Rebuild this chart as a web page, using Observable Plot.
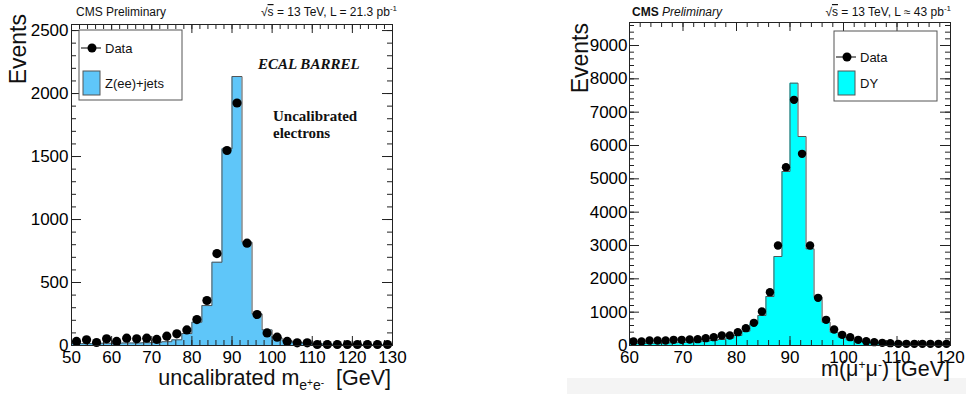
<!DOCTYPE html>
<html><head><meta charset="utf-8">
<script src="https://cdn.jsdelivr.net/npm/d3@7"></script>
<script src="https://cdn.jsdelivr.net/npm/@observablehq/plot@0.6"></script>
<style>
body{margin:0;background:#fff;}
#wrap{position:relative;width:966px;height:394px;overflow:hidden;background:#fff;font-family:"Liberation Sans",Arial,sans-serif;}
#left,#right{position:absolute;top:0;}
#left{left:0;} #right{left:483px;}
#band{position:absolute;left:567px;top:378px;width:399px;height:16px;background:#f4f4f4;}
svg{overflow:visible;}
</style></head><body>
<div id="wrap"><div id="band"></div><div id="left"></div><div id="right"></div></div>
<script>
// ---------- data: left panel (electrons, ECAL barrel) ----------
const leftEdges = [50,52.5,55,57.5,60,62.5,65,67.5,70,72.5,75,77.5,80,82.5,85,87.5,90,92.5,95,97.5,100,102.5,105,107.5,110,112.5,115,117.5,120,122.5,125,127.5,130];
const leftMC = [15,15,15,18,18,20,20,22,25,30,45,95,185,317,661,1561,2135,820,251,124,60,38,26,18,14,11,9,8,7,6,5,5];
const leftData = [32,45,24,53,32,58,53,58,48,74,93,124,206,357,730,1548,1925,812,246,100,66,32,21,21,8,8,8,8,8,8,8,8];
const leftXTicks = [50,60,70,80,90,100,110,120,130];
const leftYTicks = [0,500,1000,1500,2000,2500];

// ---------- data: right panel (muons, DY) ----------
const rightEdges = [60,61.5,63,64.5,66,67.5,69,70.5,72,73.5,75,76.5,78,79.5,81,82.5,84,85.5,87,88.5,90,91.5,93,94.5,96,97.5,99,100.5,102,103.5,105,106.5,108,109.5,111,112.5,114,115.5,117,118.5,120];
const rightMC = [60,60,65,70,75,80,90,100,110,130,150,180,220,300,430,650,900,1470,2670,5220,7870,6270,2900,1450,700,400,250,170,130,100,80,70,60,50,45,40,35,30,30,25];
const rightData = [120,120,150,150,150,170,170,180,190,220,250,300,300,400,520,680,1020,1600,3000,5350,7370,5750,3000,1430,770,480,320,250,170,130,100,80,70,50,50,50,50,50,50,50];
const rightXTicks = [60,70,80,90,100,110,120];
const rightYTicks = [0,1000,2000,3000,4000,5000,6000,7000,8000,9000];

function steps(edges, vals){
  const s=[{x:edges[0],y:0}];
  vals.forEach((v,i)=>{s.push({x:edges[i],y:v},{x:edges[i+1],y:v});});
  s.push({x:edges[edges.length-1],y:0});
  return s;
}
function panel(c){
  const H = 394 - c.mT - c.mB, W = c.width - c.mL - c.mR;
  const st = steps(c.edges, c.mc);
  const pts = c.data.map((v,i)=>({x:(c.edges[i]+c.edges[i+1])/2, y:v}));
  const ts = "#222";
  return Plot.plot({
    width:c.width, height:394, marginLeft:c.mL, marginRight:c.mR, marginTop:c.mT, marginBottom:c.mB,
    x:{domain:c.xDomain}, y:{domain:c.yDomain},
    style:{fontFamily:"'Liberation Sans', Arial, sans-serif", background:"transparent", color:"#000", overflow:"visible"},
    marks:[
      Plot.areaY(st,{x:"x",y1:0,y2:"y",fill:c.fill}),
      Plot.line(st,{x:"x",y:"y",stroke:"#555",strokeWidth:1}),
      Plot.tickX(c.xMajor,{x:d=>d, insetTop:H-9, stroke:ts}),
      Plot.tickX(c.xMinor,{x:d=>d, insetTop:H-5, stroke:ts}),
      Plot.tickX(c.xMajor,{x:d=>d, insetBottom:H-9, stroke:ts}),
      Plot.tickX(c.xMinor,{x:d=>d, insetBottom:H-5, stroke:ts}),
      Plot.tickY(c.yMajor,{y:d=>d, insetRight:W-10, stroke:ts}),
      Plot.tickY(c.yMinor,{y:d=>d, insetRight:W-5, stroke:ts}),
      Plot.tickY(c.yMajor,{y:d=>d, insetLeft:W-10, stroke:ts}),
      Plot.tickY(c.yMinor,{y:d=>d, insetLeft:W-5, stroke:ts}),
      Plot.dot(pts,{x:"x",y:"y",r:c.r,fill:"#000",stroke:null}),
      Plot.frame({stroke:"#222"}),
      Plot.axisX(c.xMajor,{tickSize:0,tickPadding:5,fontSize:17,tickFormat:d=>String(d),label:null}),
      Plot.axisY(c.yMajor,{tickSize:0,tickPadding:c.yPad,fontSize:17,tickFormat:d=>String(d),label:null})
    ]
  });
}

const left = panel({width:483, mL:71, mR:91, mT:24, mB:49, xDomain:[50,130], yDomain:[0,2548],
  edges:leftEdges, mc:leftMC, data:leftData, fill:"#5fc6f9", r:4.6, yPad:3,
  xMajor:leftXTicks, xMinor:d3.range(50,131,2), yMajor:leftYTicks, yMinor:d3.range(0,2548,100)});
const right = panel({width:483, mL:146, mR:16, mT:22, mB:49, xDomain:[60,120], yDomain:[0,9690],
  edges:rightEdges, mc:rightMC, data:rightData, fill:"#00ffff", r:4.2, yPad:2,
  xMajor:rightXTicks, xMinor:d3.range(60,121,2), yMajor:rightYTicks, yMinor:d3.range(0,9690,200)});
document.getElementById("left").appendChild(left);
document.getElementById("right").appendChild(right);

const SANS = "'Liberation Sans', Arial, sans-serif", SERIF = "'Liberation Serif', 'Times New Roman', serif";
function txt(g, x, y, s, o={}){
  const t = g.append("text").attr("x",x).attr("y",y).attr("font-family",o.family||SANS)
    .attr("font-size",o.size||12).attr("fill","#111").attr("text-anchor",o.anchor||"start")
    .style("white-space","pre");
  if (o.weight) t.attr("font-weight",o.weight);
  if (o.style) t.attr("font-style",o.style);
  if (o.transform) t.attr("transform",o.transform);
  if (s) t.text(s);
  return t;
}
function lumi(g, xEnd, lumiText){
  const t = txt(g, xEnd, 16, null, {anchor:"end", size:12});
  t.append("tspan").text("\u221A");
  t.append("tspan").attr("text-decoration","overline").text("s");
  t.append("tspan").text(lumiText);
  t.append("tspan").attr("font-size",8).attr("dy",-5).text("-1");
}
function legend(g, bx, by, dataY, rectY, label, fill){
  g.append("rect").attr("x",bx).attr("y",by).attr("width",103).attr("height",70)
    .attr("fill","#fff").attr("stroke","#555").attr("stroke-width",1);
  g.append("line").attr("x1",bx+2).attr("x2",bx+22).attr("y1",dataY).attr("y2",dataY).attr("stroke","#000");
  g.append("circle").attr("cx",bx+13).attr("cy",dataY).attr("r",4.5).attr("fill","#000");
  txt(g, bx+26, dataY+4.5, "Data", {size:13});
  g.append("rect").attr("x",bx+4).attr("y",rectY).attr("width",17).attr("height",24)
    .attr("fill",fill).attr("stroke","#555");
  txt(g, bx+26, rectY+16.5, label, {size:13});
}

// left annotations
{
  const g = d3.select(left);
  txt(g, 76, 16, "CMS Preliminary", {size:12});
  lumi(g, 397, " = 13 TeV, L = 21.3 pb");
  txt(g, 0, 0, "Events", {size:23, anchor:"end", transform:"translate(26,14) rotate(-90)"});
  legend(g, 79, 30, 48, 71, "Z(ee)+jets", "#5fc6f9");
  txt(g, 258, 69, "ECAL BARREL", {family:SERIF, size:15, weight:"bold", style:"italic"});
  txt(g, 273, 121, "Uncalibrated", {family:SERIF, size:15, weight:"bold"});
  txt(g, 273, 138, "electrons", {family:SERIF, size:15, weight:"bold"});
  const t = txt(g, 391, 385, null, {anchor:"end", size:21.5});
  t.append("tspan").text("uncalibrated m");
  t.append("tspan").attr("font-size",14).attr("dy",5).text("e");
  t.append("tspan").attr("font-size",10).attr("dy",-4).text("+");
  t.append("tspan").attr("font-size",14).attr("dy",4).text("e");
  t.append("tspan").attr("font-size",10).attr("dy",-4).text("-");
  t.append("tspan").attr("font-size",21.5).attr("dy",-1).text("\u00a0\u00a0[GeV]");
}
// right annotations
{
  const g = d3.select(right);
  const c = txt(g, 149, 16, null, {size:12});
  c.append("tspan").attr("font-weight","bold").text("CMS");
  c.append("tspan").attr("font-style","italic").text(" Preliminary");
  lumi(g, 468, " = 13 TeV, L \u2248 43 pb");
  txt(g, 0, 0, "Events", {size:23, anchor:"end", transform:"translate(105,23) rotate(-90)"});
  legend(g, 351, 31, 57, 71, "DY", "#00ffff");
  const t = txt(g, 467, 376, null, {anchor:"end", size:21.5});
  t.append("tspan").text("m(\u03BC");
  t.append("tspan").attr("font-size",12).attr("dy",-7).text("+");
  t.append("tspan").attr("font-size",21.5).attr("dy",7).text("\u03BC");
  t.append("tspan").attr("font-size",12).attr("dy",-7).text("-");
  t.append("tspan").attr("font-size",21.5).attr("dy",7).text(") [GeV]");
}
</script>
</body></html>
